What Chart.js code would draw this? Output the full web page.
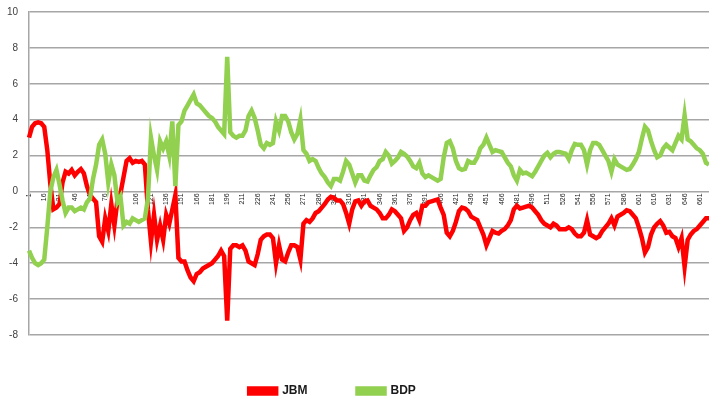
<!DOCTYPE html>
<html>
<head>
<meta charset="utf-8">
<script src="https://cdn.jsdelivr.net/npm/chart.js@4.4.1/dist/chart.umd.min.js"></script>
<style>
  html, body { margin: 0; padding: 0; background: #fff; overflow: hidden; }
  #wrap { width: 709px; height: 403px; }
</style>
</head>
<body>
<div id="wrap"><canvas id="myChart" width="709" height="403"></canvas></div>
<script>
const tickLabels = ['1', '16', '31', '46', '61', '76', '91', '106', '121', '136', '151', '166', '181', '196', '211',
    '226', '241', '256', '271', '286', '301', '316', '331', '346', '361', '376', '391', '406', '421', '436',
    '451', '466', '481', '496', '511', '526', '541', '556', '571', '586', '601', '616', '631', '646', '661'];

const seriesNames = ['JBM', 'BDP'];

const jbmValues = [
    3.0, 3.6, 3.8, 3.85, 3.8, 3.6, 2.3, 0.4, -1.0, -0.9,
    -0.7, 0.5, 1.1, 1.0, 1.2, 0.9, 1.1, 1.25, 1.0, 0.3,
    -0.2, -0.4, -0.6, -2.5, -2.8, -1.5, -2.2, -0.7, -1.9, -0.5,
    -0.1, 0.8, 1.7, 1.85, 1.6, 1.7, 1.65, 1.7, 1.5, -1.0,
    -2.8, -1.3, -2.7, -1.9, -2.7, -1.3, -1.8, -1.0, -0.2, -3.7,
    -3.9, -3.9, -4.4, -4.8, -5.0, -4.6, -4.5, -4.3, -4.2, -4.1,
    -4.0, -3.8, -3.6, -3.3, -3.6, -7.2, -3.2, -3.0, -3.0, -3.1,
    -3.0, -3.3, -3.9, -4.0, -4.1, -3.5, -2.7, -2.5, -2.4, -2.4,
    -2.6, -4.0, -3.0, -3.8, -3.9, -3.4, -3.0, -3.0, -3.1, -3.8,
    -1.8, -1.6, -1.7, -1.5, -1.2, -1.1, -0.9, -0.7, -0.45, -0.3,
    -0.35, -0.5, -0.5, -0.7, -1.2, -1.8, -1.0, -0.55, -0.5, -0.8,
    -0.55, -0.5, -0.8, -0.9, -1.0, -1.2, -1.5, -1.5, -1.3, -1.0,
    -1.1, -1.3, -1.5, -2.2, -2.0, -1.6, -1.3, -1.2, -1.6, -0.8,
    -0.8, -0.6, -0.55, -0.5, -0.45, -0.9, -1.3, -2.3, -2.5, -2.2,
    -1.7, -1.1, -0.9, -0.95, -1.1, -1.4, -1.5, -1.6, -2.0, -2.4,
    -3.0, -2.6, -2.2, -2.3, -2.35, -2.2, -2.1, -1.9, -1.6, -1.0,
    -0.8, -0.95, -0.9, -0.85, -0.8, -0.9, -1.1, -1.3, -1.6, -1.8,
    -1.9, -2.0, -1.8, -1.9, -2.1, -2.1, -2.1, -2.0, -2.1, -2.35,
    -2.5, -2.5, -2.3, -1.6, -2.4, -2.5, -2.6, -2.5, -2.2, -2.0,
    -1.8, -1.5, -1.9, -1.4, -1.3, -1.2, -1.05, -1.1, -1.3, -1.5,
    -2.0, -2.6, -3.4, -3.1, -2.4, -2.0, -1.8, -1.65, -1.9, -2.3,
    -2.25, -2.5, -2.6, -3.1, -2.6, -4.2, -2.7, -2.4, -2.2, -2.1,
    -1.9, -1.7, -1.5, -1.5
];

const bdpValues = [
    -3.3, -3.7, -4.0, -4.1, -4.0, -3.8, -2.0, 0.0, 0.8, 1.2,
    0.4, -0.5, -1.2, -0.9, -0.9, -1.1, -1.0, -0.9, -1.0, -0.6,
    -0.4, 0.7, 1.5, 2.6, 2.9, 2.1, 0.5, 1.5, 0.9, -0.6,
    -0.3, -1.9, -1.7, -1.8, -1.5, -1.6, -1.7, -1.6, -1.5, -0.4,
    3.0, 2.0, 1.2, 2.8, 2.4, 2.8, 2.0, 3.9, 0.3, 3.7,
    3.9, 4.5, 4.8, 5.1, 5.4, 4.9, 4.8, 4.6, 4.4, 4.2,
    4.1, 3.9, 3.6, 3.4, 3.2, 7.5, 3.3, 3.1, 3.0, 3.1,
    3.1, 3.4, 4.2, 4.5, 4.1, 3.4, 2.6, 2.4, 2.7, 2.6,
    2.7, 3.9, 3.4, 4.2, 4.2, 3.9, 3.3, 2.9, 3.2, 4.0,
    2.3, 2.1, 1.7, 1.8, 1.7, 1.3, 1.0, 0.8, 0.5, 0.3,
    0.7, 0.7, 0.6, 1.1, 1.7, 1.5, 1.0, 0.5, 0.9, 0.9,
    0.6, 0.55, 0.9, 1.2, 1.35, 1.7, 1.8, 2.2, 2.0, 1.55,
    1.7, 1.9, 2.2, 2.1, 1.95, 1.7, 1.4, 1.3, 1.6, 1.0,
    0.8, 0.9, 0.8, 0.7, 0.6, 0.7, 1.9, 2.7, 2.8, 2.4,
    1.7, 1.3, 1.2, 1.25, 1.7, 1.6, 1.6, 1.9, 2.4, 2.6,
    3.0, 2.6, 2.2, 2.3, 2.25, 2.2, 1.9, 1.6, 1.4, 0.9,
    0.6, 1.2, 1.0, 1.05, 0.95, 0.85, 1.1, 1.4, 1.7, 2.0,
    2.15, 1.9, 2.1, 2.2, 2.2, 2.15, 2.1, 1.8, 2.3, 2.65,
    2.6, 2.6, 2.3, 1.5, 2.3, 2.7, 2.7, 2.6, 2.3, 2.0,
    1.7, 1.1, 1.8, 1.5, 1.4, 1.3, 1.2, 1.25, 1.5, 1.8,
    2.2, 2.95, 3.6, 3.4, 2.8, 2.3, 1.9, 2.0, 2.4, 2.6,
    2.45, 2.3, 2.7, 3.1, 2.9, 4.25, 2.9, 2.8, 2.6, 2.4,
    2.3, 2.1, 1.6, 1.5
];

// category axis: observation numbers 1, 4, 7, ... 670
const categories = [];
for (let i = 1; i <= 670; i += 3) categories.push(String(i));

const gridGray = '#a6a6a6';

// nudge the legend to where the original sat
const legendShift = {
    id: 'legendShift',
    afterLayout(chart) {
        chart.legend.left -= 22;
        chart.legend.right -= 22;
    }
};

const ctx = document.getElementById('myChart');
const myChart = new Chart(ctx, {
    type: 'line',
    data: {
        labels: categories,
        datasets: [{
            label: seriesNames[0],
            data: jbmValues,
            borderColor: '#ff0000',
            backgroundColor: '#ff0000',
            borderWidth: 4.5,
            pointRadius: 0,
            tension: 0,
            order: 1
        }, {
            label: seriesNames[1],
            data: bdpValues,
            borderColor: '#92d050',
            backgroundColor: '#92d050',
            borderWidth: 4.5,
            pointRadius: 0,
            tension: 0,
            order: 0
        }]
    },
    options: {
        responsive: false,
        animation: false,
        layout: {
            padding: { top: 12, left: 0, right: 0, bottom: -4 }
        },
        plugins: {
            tooltip: { enabled: false },
            legend: {
                position: 'bottom',
                labels: {
                    boxWidth: 27,
                    boxHeight: 5,
                    padding: 50,
                    color: '#1a1a1a',
                    font: { family: 'Liberation Sans, Arial, sans-serif', size: 12, weight: 'bold' },
                    sort: (a, b) => a.datasetIndex - b.datasetIndex
                }
            }
        },
        scales: {
            x: {
                position: { y: 0 },
                grid: { display: false, drawTicks: false },
                border: { display: false },
                ticks: {
                    autoSkip: false,
                    minRotation: 90,
                    maxRotation: 90,
                    padding: 2,
                    color: '#222',
                    font: { family: 'Liberation Sans, Arial, sans-serif', size: 7 },
                    callback: function (value, index) {
                        return index % 5 === 0 ? tickLabels[index / 5] : '';
                    }
                },
                afterFit: (scale) => {
                    scale.paddingLeft = 0;
                    scale.paddingRight = 0;
                }
            },
            y: {
                min: -8,
                max: 10,
                grid: { color: gridGray, lineWidth: 1.5, drawTicks: false },
                border: { display: true, color: gridGray, width: 1.5 },
                ticks: {
                    stepSize: 2,
                    padding: 11,
                    color: '#404040',
                    font: { family: 'Liberation Sans, Arial, sans-serif', size: 10 }
                },
                afterFit: (scale) => {
                    scale.width = 29;
                    scale.paddingTop = 0;
                    scale.paddingBottom = 0;
                }
            }
        }
    },
    plugins: [legendShift]
});
</script>
</body>
</html>
